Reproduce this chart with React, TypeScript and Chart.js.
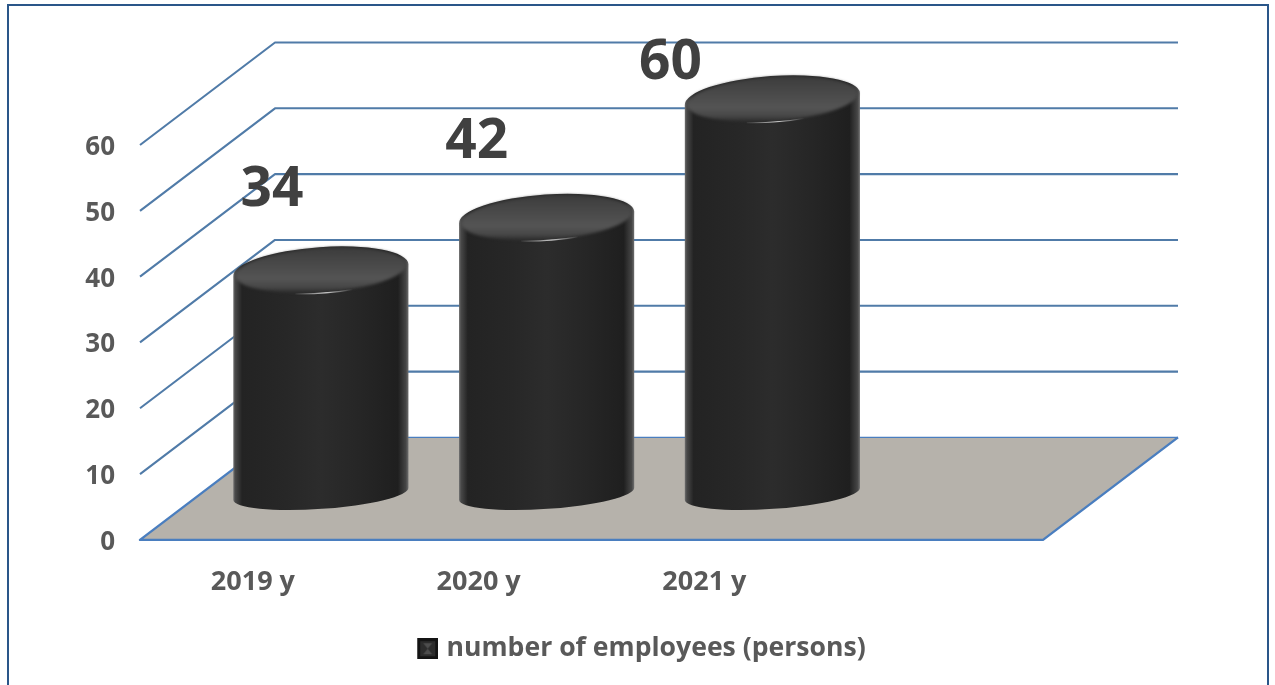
import React, { useEffect, useRef } from "react";
import { Chart, registerables } from "chart.js";

Chart.register(...registerables);

// Chart content
const categories = ["2019 y", "2020 y", "2021 y", ""];
const employees = [34, 42, 60, null];
const seriesName = "number of employees (persons)";
const valueTicks = [0, 10, 20, 30, 40, 50, 60];

// Colours
const textGrey = "#595959";
const valueGrey = "#404040";
const gridBlue = "#507ba8";
const floorBlue = "#4a7ebf";
const floorFill = "#b6b2ab";
const frameBlue = "#2a5689";

// Oblique projection of the box the columns stand in
const DEPTH_X = 135;
const DEPTH_Y = 102.5;
const COLUMN_DEPTH_X = 68;
const COLUMN_DEPTH_Y = 46;

const FONT = "'Open Sans', sans-serif";

function legendSwatch(): HTMLCanvasElement {
  const c = document.createElement("canvas");
  c.width = 26;
  c.height = 21;
  const g = c.getContext("2d")!;
  g.translate(5, 0);
  g.fillStyle = "#141414";
  g.fillRect(0, 0, 21, 21);
  g.fillStyle = "#2c2c2c";
  g.fillRect(3, 3, 15, 15);
  g.fillStyle = "#4d4d4d";
  g.beginPath();
  g.moveTo(6, 5);
  g.lineTo(15, 5);
  g.lineTo(10.5, 10.5);
  g.lineTo(15, 16);
  g.lineTo(6, 16);
  g.lineTo(10.5, 10.5);
  g.closePath();
  g.fill();
  return c;
}

// Floor and the gridlines on the side and back walls, taken from the value scale
const boxPlugin = {
  id: "box",
  beforeDatasetsDraw(chart: any) {
    const { ctx, chartArea } = chart;
    const y = chart.scales.y;
    const { left, right } = chartArea;
    const y0 = y.getPixelForValue(0);
    ctx.save();
    ctx.lineJoin = "round";

    ctx.fillStyle = floorFill;
    ctx.beginPath();
    ctx.moveTo(left, y0);
    ctx.lineTo(left + DEPTH_X, y0 - DEPTH_Y);
    ctx.lineTo(right + DEPTH_X, y0 - DEPTH_Y);
    ctx.lineTo(right, y0);
    ctx.closePath();
    ctx.fill();

    ctx.strokeStyle = gridBlue;
    ctx.lineWidth = 2.1;
    for (const t of valueTicks) {
      if (t === 0) continue;
      const p = y.getPixelForValue(t);
      ctx.beginPath();
      ctx.moveTo(left, p);
      ctx.lineTo(left + DEPTH_X, p - DEPTH_Y);
      ctx.lineTo(right + DEPTH_X, p - DEPTH_Y);
      ctx.stroke();
    }

    ctx.strokeStyle = floorBlue;
    ctx.lineWidth = 1.4;
    ctx.beginPath();
    ctx.moveTo(left + DEPTH_X, y0 - DEPTH_Y);
    ctx.lineTo(right + DEPTH_X, y0 - DEPTH_Y);
    ctx.stroke();
    ctx.lineWidth = 2.4;
    ctx.beginPath();
    ctx.moveTo(left + DEPTH_X, y0 - DEPTH_Y);
    ctx.lineTo(left, y0);
    ctx.lineTo(right, y0);
    ctx.lineTo(right + DEPTH_X, y0 - DEPTH_Y);
    ctx.stroke();
    ctx.restore();
  },
};

// Cylinders drawn over each bar element's position
const cylinderPlugin = {
  id: "cylinders",
  afterDatasetsDraw(chart: any) {
    const { ctx } = chart;
    const y = chart.scales.y;
    const bars = chart.getDatasetMeta(0).data;
    const tilt = (-4 * Math.PI) / 180;
    bars.forEach((bar: any, i: number) => {
      if (employees[i] == null) return;
      const half = bar.width / 2;
      const cx = bar.x + COLUMN_DEPTH_X;
      const topY = bar.y - COLUMN_DEPTH_Y;
      const baseY = y.getPixelForValue(0) - COLUMN_DEPTH_Y;
      const rx = half + 0.3;
      const dx = rx * Math.cos(tilt);
      const dy = rx * Math.sin(tilt);

      ctx.save();
      const side = ctx.createLinearGradient(cx - dx, 0, cx + dx, 0);
      side.addColorStop(0, "#6e6e6e");
      side.addColorStop(0.012, "#484848");
      side.addColorStop(0.05, "#232323");
      side.addColorStop(0.3, "#272727");
      side.addColorStop(0.5, "#2c2c2c");
      side.addColorStop(0.72, "#262626");
      side.addColorStop(0.94, "#1f1f1f");
      side.addColorStop(0.985, "#454545");
      side.addColorStop(1, "#6e6e6e");
      ctx.filter = "blur(0.6px)";
      ctx.fillStyle = side;
      ctx.beginPath();
      ctx.moveTo(cx - dx, topY - dy);
      ctx.lineTo(cx - dx, baseY - dy);
      ctx.ellipse(cx, baseY, rx, 15, tilt, Math.PI, 0, true);
      ctx.lineTo(cx + dx, topY + dy);
      ctx.ellipse(cx, topY, rx, 23, tilt, 0, Math.PI, true);
      ctx.closePath();
      ctx.fill();

      const cap = ctx.createLinearGradient(0, topY - 24, 0, topY + 24);
      cap.addColorStop(0, "#3a3a3a");
      cap.addColorStop(0.3, "#464646");
      cap.addColorStop(0.68, "#545454");
      cap.addColorStop(0.86, "#464646");
      cap.addColorStop(1, "#242424");
      ctx.filter = "blur(1.5px)";
      ctx.fillStyle = cap;
      ctx.beginPath();
      ctx.ellipse(cx, topY, rx - 2, 22, tilt, 0, Math.PI * 2);
      ctx.fill();

      const glint = ctx.createLinearGradient(cx - 28, 0, cx + 32, 0);
      glint.addColorStop(0, "rgba(230,230,230,0)");
      glint.addColorStop(0.55, "rgba(235,235,235,0.85)");
      glint.addColorStop(1, "rgba(230,230,230,0)");
      ctx.filter = "none";
      ctx.strokeStyle = glint;
      ctx.lineWidth = 1.2;
      ctx.beginPath();
      ctx.ellipse(cx, topY, rx, 23, tilt, (68 * Math.PI) / 180, (108 * Math.PI) / 180);
      ctx.stroke();
      ctx.restore();
    });
  },
};

// Value captions, each placed by hand next to its column
const captionNudges = [
  { x: 19, y: -80 },
  { x: -2, y: -75 },
  { x: -34, y: -36 },
];
const captionPlugin = {
  id: "captions",
  afterDraw(chart: any) {
    const { ctx } = chart;
    const bars = chart.getDatasetMeta(0).data;
    ctx.save();
    ctx.font = `bold 55px ${FONT}`;
    ctx.fillStyle = valueGrey;
    ctx.textAlign = "center";
    ctx.textBaseline = "middle";
    employees.forEach((v, i) => {
      if (v == null) return;
      const n = captionNudges[i];
      ctx.fillText(String(v), bars[i].x + n.x, bars[i].y - COLUMN_DEPTH_Y + n.y);
    });
    ctx.restore();
  },
};

// Outer frame, open at the bottom edge
const framePlugin = {
  id: "frame",
  afterDraw(chart: any) {
    const { ctx, width, height } = chart;
    ctx.save();
    ctx.strokeStyle = frameBlue;
    ctx.lineWidth = 2;
    ctx.beginPath();
    ctx.moveTo(8, height);
    ctx.lineTo(8, 5);
    ctx.lineTo(width - 7, 5);
    ctx.lineTo(width - 7, height);
    ctx.stroke();
    ctx.restore();
  },
};

// Centres the legend on the full canvas rather than the padded plot width,
// and drops the value labels so their digits sit level with the gridline ends
const placementPlugin = {
  id: "placement",
  afterLayout(chart: any) {
    chart.legend.left = 8;
    chart.legend.right = chart.width;
  },
  beforeDraw(chart: any) {
    for (const item of chart.scales.y.getLabelItems()) {
      if (!item.lowered) {
        item.options.translation[1] += 2.5;
        item.lowered = true;
      }
    }
  },
};

export default function App() {
  const ref = useRef<HTMLCanvasElement>(null);
  useEffect(() => {
    const swatch = legendSwatch();
    const chart = new Chart(ref.current!, {
      type: "bar",
      data: {
        labels: categories,
        datasets: [
          {
            label: seriesName,
            data: employees,
            backgroundColor: "transparent",
            borderWidth: 0,
            barPercentage: 0.775,
            categoryPercentage: 1,
          },
        ],
      },
      options: {
        responsive: false,
        animation: false,
        layout: { padding: { top: 145, right: 232, bottom: 13, left: 0 } },
        plugins: {
          tooltip: { enabled: false },
          legend: {
            position: "bottom",
            labels: {
              usePointStyle: true,
              pointStyleWidth: 16,
              padding: 10,
              color: textGrey,
              font: { family: FONT, size: 26.6, weight: "bold" },
              generateLabels: () => [
                { text: seriesName, pointStyle: swatch, fontColor: textGrey, lineWidth: 0, hidden: false },
              ],
            },
          },
        },
        scales: {
          x: {
            grid: { display: false, drawTicks: false },
            border: { display: false },
            ticks: {
              color: textGrey,
              padding: 26,
              maxRotation: 0,
              font: { family: FONT, size: 27, weight: "bold" },
            },
            afterFit(s: any) {
              s.height = 85.5;
            },
          },
          y: {
            min: 0,
            max: 60,
            grid: { display: false, drawTicks: false },
            border: { display: false },
            ticks: {
              stepSize: 10,
              color: textGrey,
              padding: 25,
              font: { family: FONT, size: 26, weight: "bold" },
            },
            afterFit(s: any) {
              s.width = 140;
            },
          },
        },
      },
      plugins: [placementPlugin, boxPlugin, cylinderPlugin, captionPlugin, framePlugin],
    } as any);
    return () => chart.destroy();
  }, []);
  return (
    <canvas
      ref={ref}
      width={1275}
      height={685}
      style={{ position: "absolute", left: 0, top: 0, display: "block", background: "#fff" }}
    />
  );
}
